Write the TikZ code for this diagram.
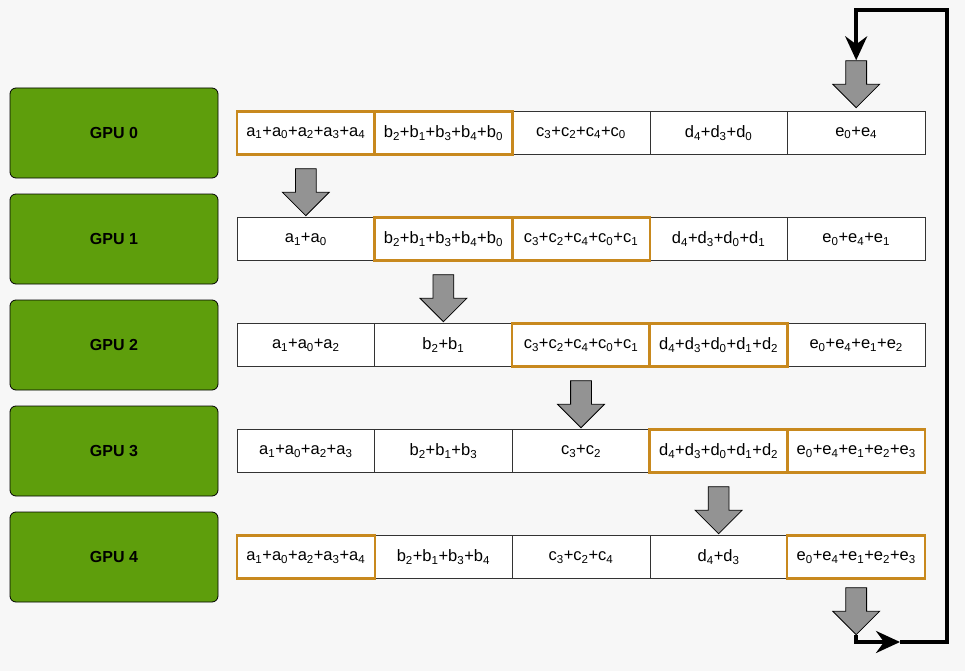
\documentclass[tikz,border=0pt]{standalone}
\usepackage{fontspec}
\setmainfont{Liberation Sans}
\usetikzlibrary{shapes.arrows, arrows.meta}
\definecolor{gpugreen}{HTML}{5E9E0C}
\definecolor{hiorange}{HTML}{C8891E}
\newcommand{\ix}[2]{#1\textsubscript{#2}}
\tikzset{
  gpu/.style = {draw=black, thick, rounded corners=6pt, fill=gpugreen,
    minimum width=208pt, minimum height=90pt, font=\bfseries\fontsize{16}{18}\selectfont},
  cell/.style = {draw=black!80, fill=white, minimum width=137.6pt, minimum height=43pt,
    inner sep=0, font=\fontsize{16.5}{18}\selectfont},
  hicell/.style = {draw=hiorange, line width=2.5pt},
  pass/.style = {single arrow, draw=black, thick, fill=gray!85, rotate=-90,
    inner sep=10pt, minimum height=47pt, single arrow head extend=13pt,
    single arrow head indent=0pt},
  loop/.style = {line width=3.5pt, -{Stealth[length=24pt, width=22pt, inset=8pt]}},
}

\begin{document}
\begin{tikzpicture}[x=1pt, y=-1pt]
  \fill[gray!6] (0,0) rectangle (965,671);
  \useasboundingbox (0,0) rectangle (965,671);
  % GPU rows
  \foreach \i/\A/\B/\C/\D/\E/\hA/\hB in {
    0/{\ix a1+\ix a0+\ix a2+\ix a3+\ix a4}/{\ix b2+\ix b1+\ix b3+\ix b4+\ix b0}/{\ix c3+\ix c2+\ix c4+\ix c0}/{\ix d4+\ix d3+\ix d0}/{\ix e0+\ix e4}/0/1,
    1/{\ix a1+\ix a0}/{\ix b2+\ix b1+\ix b3+\ix b4+\ix b0}/{\ix c3+\ix c2+\ix c4+\ix c0+\ix c1}/{\ix d4+\ix d3+\ix d0+\ix d1}/{\ix e0+\ix e4+\ix e1}/1/2,
    2/{\ix a1+\ix a0+\ix a2}/{\ix b2+\ix b1}/{\ix c3+\ix c2+\ix c4+\ix c0+\ix c1}/{\ix d4+\ix d3+\ix d0+\ix d1+\ix d2}/{\ix e0+\ix e4+\ix e1+\ix e2}/2/3,
    3/{\ix a1+\ix a0+\ix a2+\ix a3}/{\ix b2+\ix b1+\ix b3}/{\ix c3+\ix c2}/{\ix d4+\ix d3+\ix d0+\ix d1+\ix d2}/{\ix e0+\ix e4+\ix e1+\ix e2+\ix e3}/3/4,
    4/{\ix a1+\ix a0+\ix a2+\ix a3+\ix a4}/{\ix b2+\ix b1+\ix b3+\ix b4}/{\ix c3+\ix c2+\ix c4}/{\ix d4+\ix d3}/{\ix e0+\ix e4+\ix e1+\ix e2+\ix e3}/0/4%
  }{
    \node (gpu\i) [gpu] at (114, 133+106*\i) {GPU \i};
    \foreach \j/\t in {0/\A, 1/\B, 2/\C, 3/\D, 4/\E}
      \node (cell\i\j) [cell] at (305.8+137.6*\j, 133+106*\i) {\t};
    \draw [hicell] (cell\i\hA.north west) rectangle (cell\i\hA.south east);
    \draw [hicell] (cell\i\hB.north west) rectangle (cell\i\hB.south east);
  }
  % passes between GPUs
  \foreach \i in {0,...,3}
    \node (pass\i) [pass] at (305.8+137.6*\i, 187+106*\i) {};
  \node (passin) [pass] at (856.2, 79) {};
  \node (passout) [pass] at (856.2, 606) {};
  % wrap-around
  \coordinate (low) at (900, 642);
  \coordinate (turn) at (947, 10);
  \draw [loop] (passout.east) |- (low);
  \draw [loop] (low) -| (turn) -| (passin.west);
\end{tikzpicture}
\end{document}
